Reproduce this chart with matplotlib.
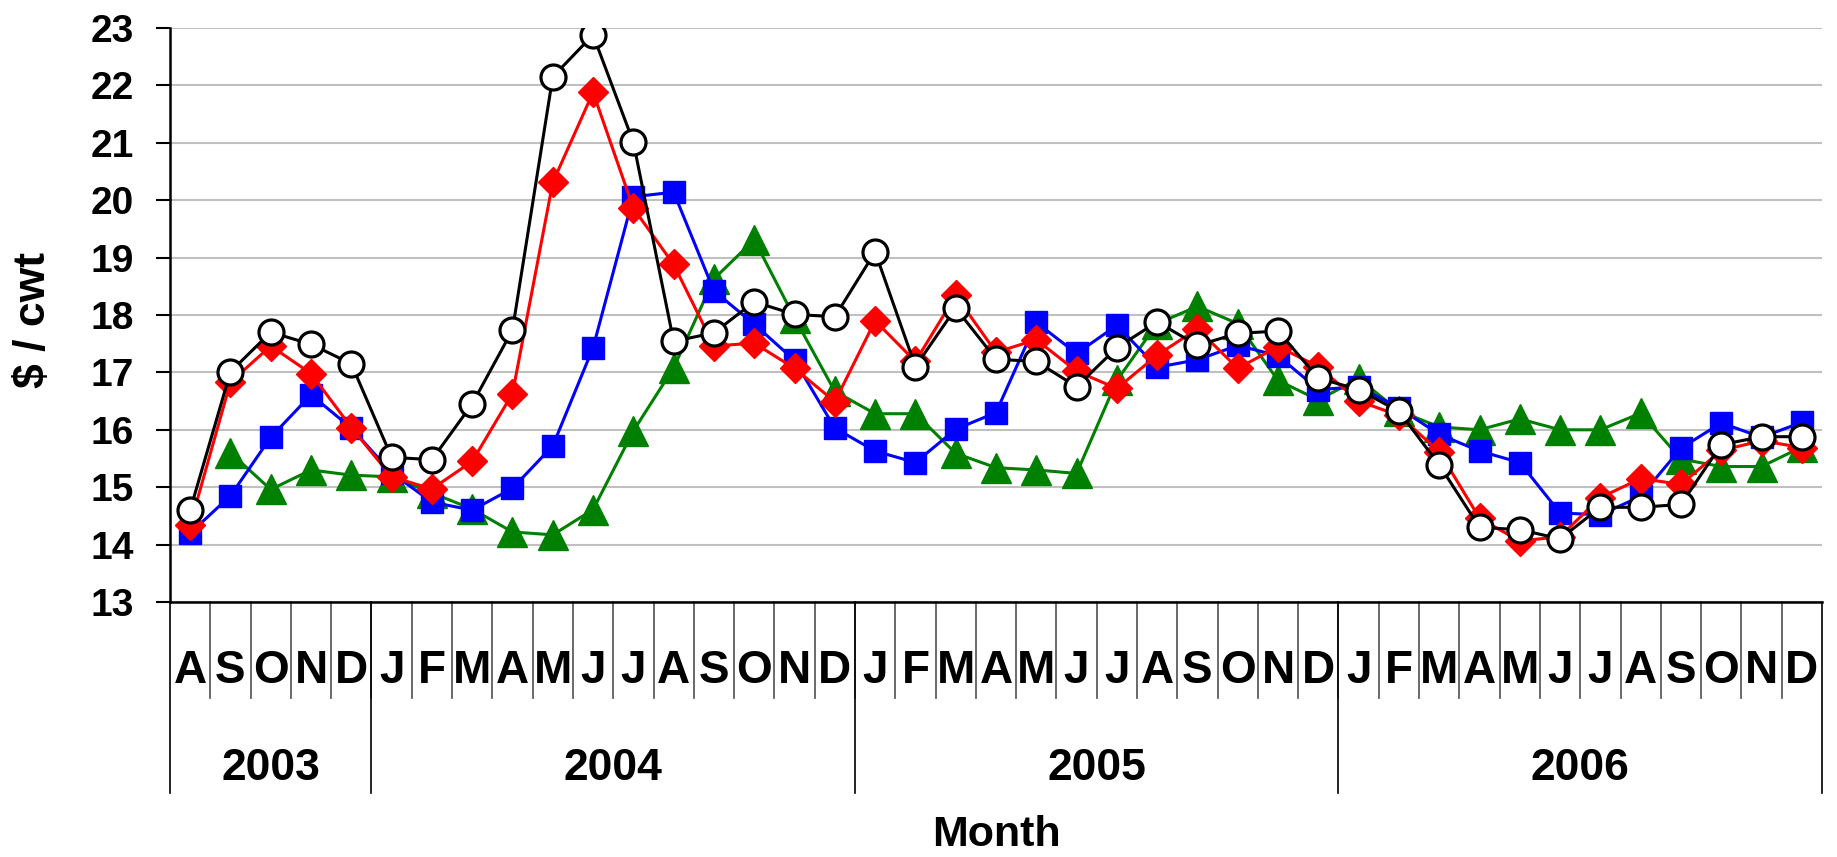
import numpy as np
import matplotlib.pyplot as plt
from matplotlib import transforms

plt.rcParams['font.family'] = ['Liberation Sans', 'DejaVu Sans']
plt.rcParams['font.weight'] = 'bold'

# Aug 2003 .. Dec 2006
months = list('ASOND') + list('JFMAMJJASOND') * 3
years = ['2003', '2004', '2005', '2006']
months_per_year = [5, 12, 12, 12]

blue = [14.20, 14.85, 15.87, 16.61, 16.03, 15.25, 14.74, 14.60, 14.98, 15.72,
        17.43, 20.06, 20.14, 18.42, 17.84, 17.21, 16.03, 15.63, 15.43, 16.01,
        16.30, 17.87, 17.33, 17.82, 17.09, 17.22, 17.47, 17.29, 16.70, 16.75,
        16.38, 15.92, 15.63, 15.43, 14.55, 14.52, 14.84, 15.68, 16.12, 15.87, 16.13]
green = [np.nan, 15.60, 14.96, 15.30, 15.21, 15.18, 14.90, 14.62, 14.22, 14.17,
         14.61, 15.98, 17.08, 18.63, 19.31, 17.95, 16.67, 16.28, 16.28, 15.59,
         15.34, 15.30, 15.24, 16.86, 17.85, 18.15, 17.85, 16.86, 16.52, 16.89,
         16.33, 16.05, 16.00, 16.19, 16.00, 16.00, 16.29, 15.49, 15.36, 15.36, 15.70]
red = [14.34, 16.83, 17.46, 16.98, 16.04, 15.18, 14.97, 15.45, 16.63, 20.31,
       21.88, 19.86, 18.88, 17.46, 17.51, 17.07, 16.49, 17.90, 17.19, 18.34,
       17.35, 17.57, 17.02, 16.72, 17.30, 17.76, 17.07, 17.45, 17.10, 16.50,
       16.25, 15.62, 14.46, 14.06, 14.14, 14.82, 15.15, 15.05, 15.64, 15.81, 15.69]
black = [14.60, 17.01, 17.70, 17.49, 17.15, 15.52, 15.48, 16.45, 17.74, 22.15,
         22.88, 21.01, 17.54, 17.69, 18.23, 18.01, 17.97, 19.10, 17.10, 18.12,
         17.23, 17.19, 16.75, 17.43, 17.88, 17.47, 17.68, 17.72, 16.90, 16.70,
         16.32, 15.39, 14.30, 14.26, 14.10, 14.65, 14.65, 14.70, 15.74, 15.88, 15.88]

W, H = 1837, 857
fig = plt.figure(figsize=(W / 100, H / 100), dpi=100)
ax = fig.add_axes([170 / W, 1 - 602 / H, (1822 - 170) / W, (602 - 28) / H])

x = np.arange(len(months))
lw = 2.2
ax.plot(x, green, color='#008000', lw=lw, marker='^', ms=21, zorder=3)
ax.plot(x, blue, color='#0000ff', lw=lw, marker='s', ms=15.5, zorder=4)
ax.plot(x, red, color='#ff0000', lw=lw, marker='D', ms=15, zorder=5)
ax.plot(x, black, color='black', lw=lw, marker='o', ms=18, mfc='white',
        mec='black', mew=2.3, zorder=6)

ax.set_xlim(-0.5, len(months) - 0.5)
ax.set_ylim(13, 23)
ax.set_yticks(range(13, 24))
ax.tick_params(axis='y', labelsize=28, length=10, width=1.5, pad=16)
ax.set_xticks([])
ax.grid(axis='y', color='#c0c0c0', lw=1.5, zorder=0)
for s in ['top', 'right']:
    ax.spines[s].set_visible(False)
ax.spines['bottom'].set_linewidth(1.8)
ax.spines['left'].set_linewidth(1.8)
ax.spines['bottom'].set_zorder(7)

# month letters and separators below the axis
trans = transforms.blended_transform_factory(ax.transData, ax.transAxes)
for i, m in enumerate(months):
    ax.text(i, -0.141, m, transform=trans, ha='center', va='baseline',
            fontsize=33, fontweight='bold')
for i in range(1, len(months)):
    ax.plot([i - 0.5, i - 0.5], [0, -0.167], transform=trans, clip_on=False,
            color='#505050', lw=1.2)

# year labels and longer separators
bounds = np.concatenate([[0], np.cumsum(months_per_year)]) - 0.5
for b in bounds:
    ax.plot([b, b], [0, -0.333], transform=trans, clip_on=False,
            color='black', lw=1.2)
for k, yr in enumerate(years):
    ax.text((bounds[k] + bounds[k + 1]) / 2, -0.310, yr, transform=trans,
            ha='center', va='baseline', fontsize=32, fontweight='bold')

fig.text((170 + 1822) / 2 / W, 1 - 846 / H, 'Month', ha='center', va='baseline',
         fontsize=31, fontweight='bold')
fig.text(33 / W, 1 - 320 / H, '$ / cwt', ha='center', va='center',
         rotation=90, fontsize=32, fontweight='bold')

fig.savefig('out.png', dpi=100)
